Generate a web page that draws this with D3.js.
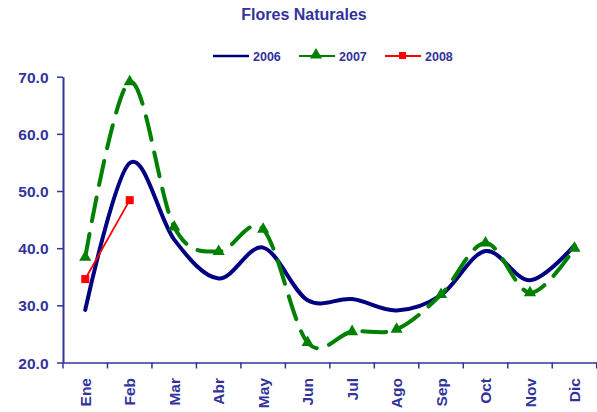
<!DOCTYPE html>
<html><head><meta charset="utf-8">
<script src="https://cdn.jsdelivr.net/npm/d3@7"></script>
<style>body{margin:0;background:#fff}svg{display:block}</style>
</head><body>
<svg id="c" width="597" height="412"></svg>
<script>
const months = ["Ene","Feb","Mar","Abr","May","Jun","Jul","Ago","Sep","Oct","Nov","Dic"];
const s2006 = [29.2,54.9,41.5,34.7,40.1,30.9,31.1,29.1,31.8,39.5,34.4,40.5];
const s2007 = [38.4,69.1,43.7,39.4,43.3,23.5,25.4,25.8,31.9,40.9,32.2,40.0];
const s2008 = [34.6,48.4];
const yTicks = [20,30,40,50,60,70];
const seriesNames = ["2006","2007","2008"];

const txt = "#333399";
const svg = d3.select("#c");
const x0 = 63, x1 = 596.7, yTop = 76.7, yBot = 362.5;
const x = d3.scaleBand().domain(months).range([x0,x1]);
const y = d3.scaleLinear().domain([20,70]).range([yBot,yTop]);
const cx = m => x(m) + x.bandwidth()/2;
const font = "Arial, 'Liberation Sans', sans-serif";

svg.append("text").attr("x",304).attr("y",20).attr("text-anchor","middle")
  .attr("font-family",font).attr("font-weight","bold").attr("font-size",16).attr("fill",txt)
  .text("Flores Naturales");

// y axis
const ya = svg.append("g").attr("transform",`translate(${x0},0)`)
  .call(d3.axisLeft(y).tickValues(yTicks).tickFormat(d3.format(".1f")).tickSize(6).tickSizeOuter(0));
ya.select(".domain").attr("stroke",txt).attr("stroke-width",2);
ya.selectAll(".tick line").attr("stroke",txt).attr("stroke-width",1.5);
ya.selectAll(".tick text").attr("fill",txt).attr("font-family",font).attr("font-weight","bold")
  .attr("font-size",15.5).attr("x",-14.5).attr("dy","0.36em");

// x axis
const xa = svg.append("g").attr("transform",`translate(0,${yBot})`)
  .call(d3.axisBottom(x).tickSize(0).tickSizeOuter(0));
xa.select(".domain").attr("stroke",txt).attr("stroke-width",1.5);
xa.selectAll(".tick text").attr("fill",txt).attr("font-family",font).attr("font-weight","bold")
  .attr("font-size",15.5).attr("text-anchor","end").attr("transform","rotate(-90)")
  .attr("x",-15.5).attr("y",0).attr("dy","0.36em");
// boundary ticks
xa.selectAll(".bt").data(months.concat(["__end"])).enter().append("line")
  .attr("x1",(d,i)=> i<months.length ? x(d) : x1).attr("x2",(d,i)=> i<months.length ? x(d) : x1)
  .attr("y1",0).attr("y2",6).attr("stroke",txt).attr("stroke-width",1.5);

const curve = d3.curveCatmullRom.alpha(0);
const line = d3.line().x((d,i)=>cx(months[i])).y(d=>y(d));

svg.append("path").attr("d",line.curve(curve)(s2006)).attr("fill","none")
  .attr("stroke","#000080").attr("stroke-width",4).attr("stroke-linecap","round");
svg.append("path").attr("d",line.curve(curve)(s2007)).attr("fill","none")
  .attr("stroke","#008000").attr("stroke-width",4).attr("stroke-dasharray","24,13").attr("stroke-linecap","round");
svg.append("path").attr("d",line.curve(d3.curveLinear)(s2008)).attr("fill","none")
  .attr("stroke","#ff0000").attr("stroke-width",1.8);

const tri = d3.symbol().type(d3.symbolTriangle).size(64);
svg.selectAll(".t7").data(s2007).enter().append("path")
  .attr("d",tri).attr("fill","#008000")
  .attr("transform",(d,i)=>`translate(${cx(months[i])},${y(d)})`);
svg.selectAll(".s8").data(s2008).enter().append("rect")
  .attr("x",(d,i)=>cx(months[i])-4).attr("y",d=>y(d)-4).attr("width",8).attr("height",8).attr("fill","#ff0000");

// legend
const lg = svg.append("g").attr("font-family",font).attr("font-weight","bold").attr("font-size",12.5).attr("fill",txt);
const legX = [213,299,385];
const legCol = ["#000080","#008000","#ff0000"];
seriesNames.forEach((n,i)=>{
  lg.append("line").attr("x1",legX[i]).attr("x2",legX[i]+36).attr("y1",56).attr("y2",56)
    .attr("stroke",legCol[i]).attr("stroke-width",i===0?2.5:2);
  if(i===1) lg.append("path").attr("d",tri).attr("fill",legCol[i]).attr("transform",`translate(${legX[i]+17},55)`);
  if(i===2) lg.append("rect").attr("x",legX[i]+14).attr("y",52).attr("width",7).attr("height",7).attr("fill",legCol[i]);
  lg.append("text").attr("x",legX[i]+40).attr("y",60.5).text(n);
});
</script>
</body></html>
